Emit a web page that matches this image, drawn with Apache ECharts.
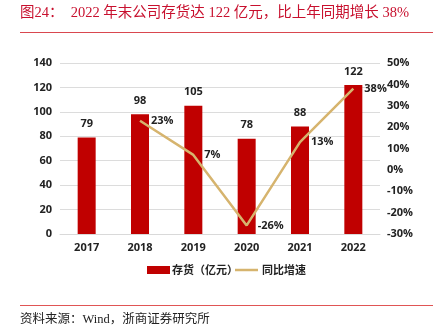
<!DOCTYPE html>
<html>
<head>
<meta charset="utf-8">
<script src="https://cdn.jsdelivr.net/npm/echarts@6/dist/echarts.min.js"></script>
<style>
  html, body { margin: 0; padding: 0; background: #fff; }
  #chart { width: 433px; height: 335px; }
</style>
</head>
<body>
<div id="chart"></div>
<script>
// Year-end inventory (100m CNY) and year-over-year growth (%)
const years = ['2017', '2018', '2019', '2020', '2021', '2022'];
const inventory = [79, 98, 105, 78, 88, 122];
const growth = [null, 23, 7, -26, 13, 38];
const leftTicks = [0, 140, 20];
const rightTicks = [-30, 50, 10];

const titleText = '图24：  2022 年末公司存货达 122 亿元，比上年同期增长 38%';
const sourceText = '资料来源：Wind，浙商证券研究所';
const barName = '存货（亿元）';
const lineName = '同比增速';

const RED = '#C00000';
const TAN = '#D6B46E';
const SANS = '"Open Sans", "Noto Sans CJK SC", sans-serif';
const axisFont = { fontFamily: SANS, fontWeight: 'bold', fontSize: 11, color: '#222' };
const legendFont = 'bold 11px "Noto Sans CJK SC", sans-serif';

const chart = echarts.init(document.getElementById('chart'), null, { renderer: 'canvas' });
chart.setOption({
  animation: false,
  grid: { left: 60, right: 53, top: 63, bottom: 101 },
  graphic: [
    { type: 'text', left: 20, top: 6, style: { text: titleText, fill: '#C8102E', font: '14.5px "Liberation Serif", "Noto Sans CJK SC", serif' } },
    { type: 'rect', shape: { x: 20, y: 32, width: 413, height: 1 }, style: { fill: '#D9474F' } },
    { type: 'rect', shape: { x: 20, y: 305, width: 413, height: 1 }, style: { fill: '#E05555' } },
    { type: 'text', left: 20, top: 313, style: { text: sourceText, fill: '#222', font: '12.5px "Liberation Serif", "Noto Sans CJK SC", serif' } },
    // legend
    { type: 'rect', shape: { x: 147, y: 266, width: 23, height: 8 }, style: { fill: RED } },
    { type: 'text', x: 172, y: 270, style: { text: barName, font: legendFont, fill: '#222', textVerticalAlign: 'middle' } },
    { type: 'line', shape: { x1: 235, y1: 270, x2: 258, y2: 270 }, style: { stroke: TAN, lineWidth: 2.5 } },
    { type: 'text', x: 262, y: 270, style: { text: lineName, font: legendFont, fill: '#222', textVerticalAlign: 'middle' } }
  ],
  xAxis: {
    type: 'category',
    data: years,
    axisLine: { lineStyle: { color: '#d9d9d9' } },
    axisTick: { show: false },
    axisLabel: Object.assign({ margin: 8 }, axisFont)
  },
  yAxis: [
    {
      type: 'value', min: leftTicks[0], max: leftTicks[1], interval: leftTicks[2],
      axisLine: { show: false }, axisTick: { show: false },
      splitLine: { lineStyle: { color: '#dcdcdc' } },
      axisLabel: Object.assign({ margin: 8 }, axisFont)
    },
    {
      type: 'value', min: rightTicks[0], max: rightTicks[1], interval: rightTicks[2],
      axisLine: { show: false }, axisTick: { show: false },
      splitLine: { show: false },
      axisLabel: Object.assign({ margin: 7, formatter: '{value}%' }, axisFont)
    }
  ],
  series: [
    {
      name: barName,
      type: 'bar',
      data: inventory,
      barWidth: 18,
      itemStyle: { color: RED },
      label: { show: true, position: 'top', distance: 8, fontFamily: SANS, fontWeight: 'bold', fontSize: 11, color: '#222' }
    },
    {
      name: lineName,
      type: 'line',
      yAxisIndex: 1,
      data: growth,
      showSymbol: true,
      symbol: 'circle',
      symbolSize: 2,
      lineStyle: { color: TAN, width: 2.5 },
      itemStyle: { color: 'rgba(0,0,0,0)', borderWidth: 0 },
      label: {
        show: true, position: 'right', distance: 10,
        formatter: p => p.value == null ? '' : p.value + '%',
        fontFamily: SANS, fontWeight: 'bold', fontSize: 11, color: '#222'
      }
    }
  ]
});
</script>
</body>
</html>
